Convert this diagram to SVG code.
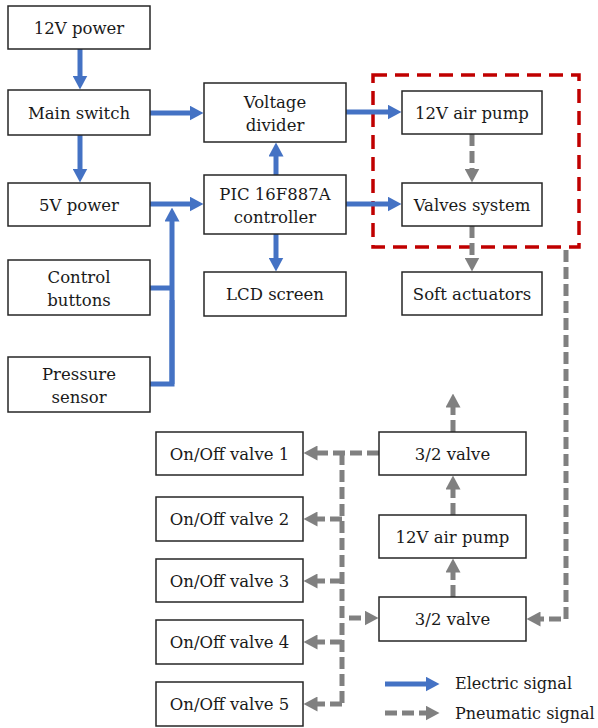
<svg xmlns="http://www.w3.org/2000/svg" width="598" height="728" viewBox="0 0 598 728">
<style>
.box{fill:#fff;stroke:#262626;stroke-width:1.5}
text{font-family:"DejaVu Serif","Liberation Serif",serif;font-size:16.5px;fill:#1a1a1a;text-anchor:middle}
.el{fill:none;stroke:#4472C4;stroke-width:5;marker-end:url(#ab)}
.eln{fill:none;stroke:#4472C4;stroke-width:5}
.pn{fill:none;stroke:#808080;stroke-width:5;stroke-dasharray:12 5;marker-end:url(#ag)}
.pnn{fill:none;stroke:#808080;stroke-width:5;stroke-dasharray:12 5}
.lg{text-anchor:start;font-size:16px}
</style>
<defs>
<marker id="ab" markerUnits="userSpaceOnUse" viewBox="0 0 14 15" markerWidth="14" markerHeight="15" refX="0.5" refY="7.5" orient="auto"><path d="M0,0 L14,7.5 L0,15 z" fill="#4472C4"/></marker>
<marker id="ag" markerUnits="userSpaceOnUse" viewBox="0 0 14 15" markerWidth="14" markerHeight="15" refX="0.5" refY="7.5" orient="auto"><path d="M0,0 L14,7.5 L0,15 z" fill="#808080"/></marker>
</defs>

<rect x="373" y="75" width="206" height="172" fill="none" stroke="#C00000" stroke-width="3.5" stroke-dasharray="14 8"/>

<g id="connectors">
<path class="el" d="M80,49 V76"/>
<path class="el" d="M150,113 H190"/>
<path class="el" d="M80,135 V169"/>
<path class="el" d="M150,204 H190"/>
<path class="eln" d="M150,288 H172 M150,384 H172 V300"/>
<path class="el" d="M172,384 V221"/>
<path class="el" d="M276,175 V156"/>
<path class="el" d="M276,234 V258"/>
<path class="el" d="M346,112 H388"/>
<path class="el" d="M346,204 H388"/>
<path class="pn" d="M472,134 V169"/>
<path class="pn" d="M472,226 V258"/>
<path class="pn" d="M566,250 V619 H540"/>
<path class="pn" d="M453,597 V572"/>
<path class="pn" d="M453,515 V489"/>
<path class="pn" d="M453,432 V407"/>
<path class="pn" d="M379,453 H317"/>
<path class="pnn" d="M342,453 V704"/>
<path class="pn" d="M342,519 H317"/>
<path class="pn" d="M342,581 H317"/>
<path class="pn" d="M342,642 H317"/>
<path class="pn" d="M342,704 H317"/>
<path class="pn" d="M349,618 H365"/>
</g>

<g id="n12v"><rect class="box" x="8" y="6" width="142" height="43"/><text x="79" y="33.5">12V power</text></g>
<g id="nmain"><rect class="box" x="8" y="90" width="142" height="45"/><text x="79" y="118.5">Main switch</text></g>
<g id="n5v"><rect class="box" x="8" y="183" width="142" height="43"/><text x="79" y="210.5">5V power</text></g>
<g id="nbtn"><rect class="box" x="8" y="260" width="142" height="55"/><text x="79" y="283">Control</text><text x="79" y="306">buttons</text></g>
<g id="npress"><rect class="box" x="8" y="357" width="142" height="55"/><text x="79" y="380">Pressure</text><text x="79" y="403">sensor</text></g>
<g id="nvd"><rect class="box" x="204" y="83" width="142" height="59"/><text x="275" y="108">Voltage</text><text x="275" y="131">divider</text></g>
<g id="npic"><rect class="box" x="204" y="175" width="142" height="59"/><text x="275" y="200">PIC 16F887A</text><text x="275" y="223">controller</text></g>
<g id="nlcd"><rect class="box" x="204" y="272" width="142" height="44"/><text x="275" y="300">LCD screen</text></g>
<g id="npump"><rect class="box" x="402" y="91" width="140" height="43"/><text x="472" y="118.5">12V air pump</text></g>
<g id="nvalves"><rect class="box" x="402" y="183" width="140" height="43"/><text x="472" y="210.5">Valves system</text></g>
<g id="nsoft"><rect class="box" x="402" y="272" width="140" height="43"/><text x="472" y="299.5">Soft actuators</text></g>
<g id="nv1"><rect class="box" x="156" y="432" width="147" height="43"/><text x="229.5" y="459.5">On/Off valve 1</text></g>
<g id="nv2"><rect class="box" x="156" y="497" width="147" height="44"/><text x="229.5" y="525">On/Off valve 2</text></g>
<g id="nv3"><rect class="box" x="156" y="559" width="147" height="43"/><text x="229.5" y="586.5">On/Off valve 3</text></g>
<g id="nv4"><rect class="box" x="156" y="620" width="147" height="44"/><text x="229.5" y="648">On/Off valve 4</text></g>
<g id="nv5"><rect class="box" x="156" y="682" width="147" height="44"/><text x="229.5" y="710">On/Off valve 5</text></g>
<g id="n32top"><rect class="box" x="379" y="432" width="147" height="43"/><text x="452.5" y="459.5">3/2 valve</text></g>
<g id="npump2"><rect class="box" x="379" y="515" width="147" height="43"/><text x="452.5" y="542.5">12V air pump</text></g>
<g id="n32bot"><rect class="box" x="379" y="597" width="147" height="44"/><text x="452.5" y="625">3/2 valve</text></g>

<g id="legend">
<path class="el" d="M385,684 H426"/>
<text class="lg" x="455" y="689">Electric signal</text>
<path class="pn" d="M385,713 H426"/>
<text class="lg" x="455" y="719">Pneumatic signal</text>
</g>
</svg>
